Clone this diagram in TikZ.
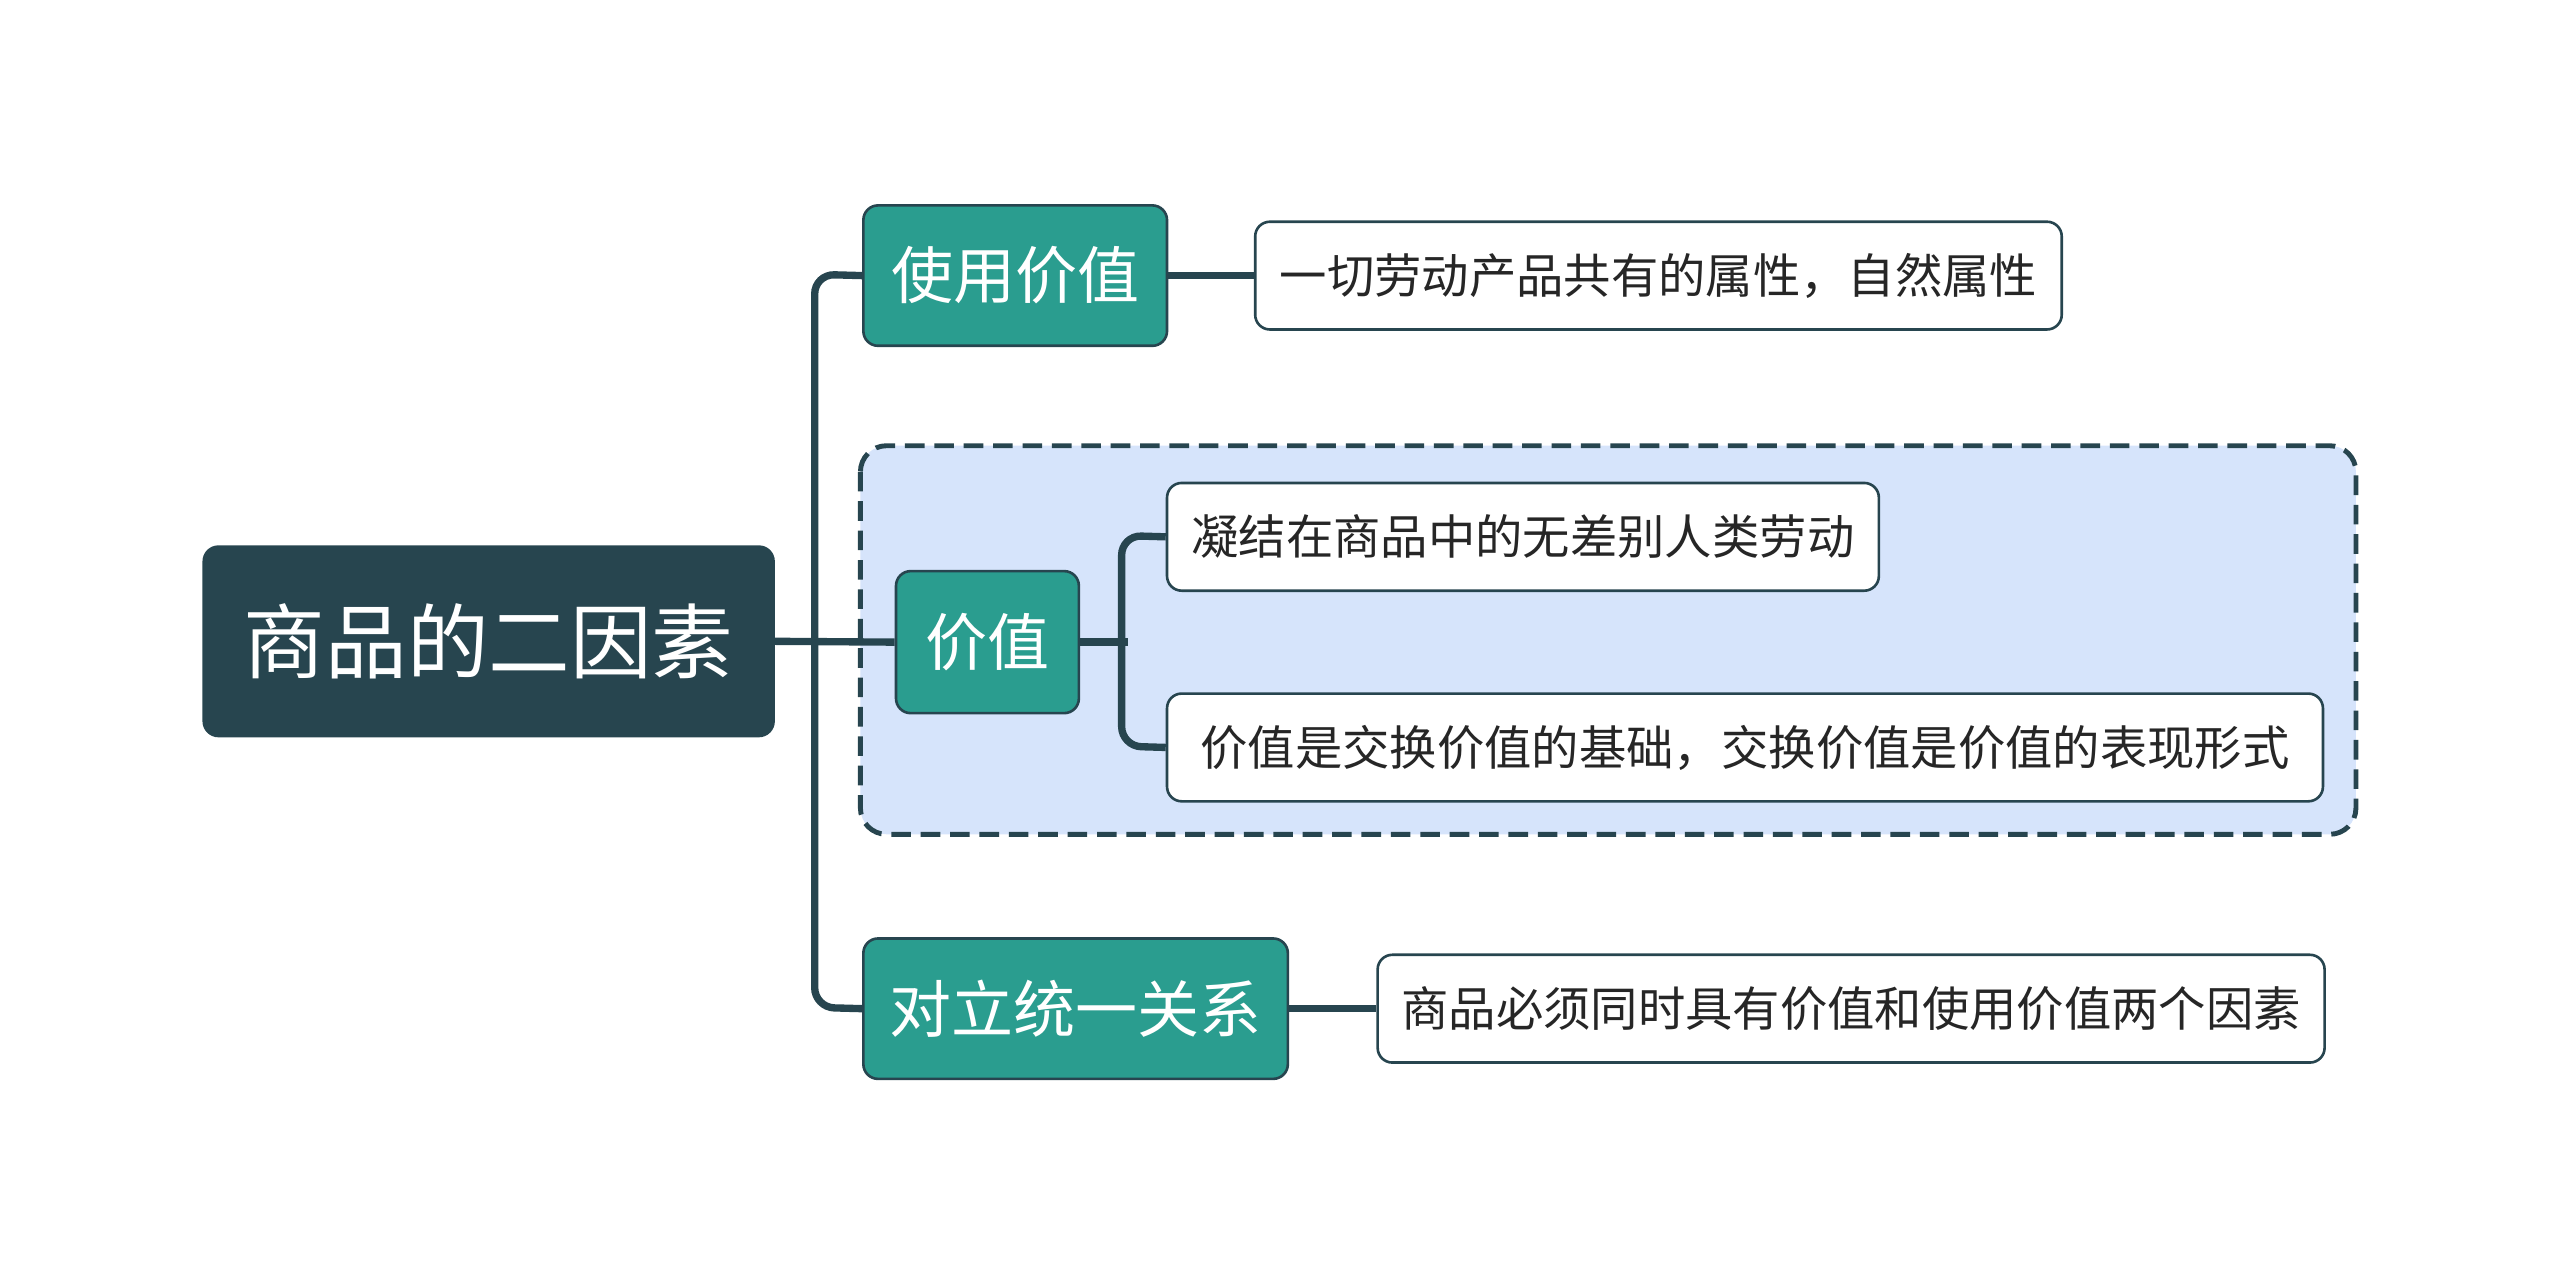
\documentclass[tikz,border=0pt]{standalone}
\usepackage{fontspec}
\setmainfont{Noto Sans CJK SC}
\definecolor{dk}{HTML}{27454F}
\definecolor{tl}{HTML}{2A9D8F}
\definecolor{bl}{HTML}{D6E4FB}
\begin{document}
\begin{tikzpicture}[x=1pt,y=-1pt,
 box/.style={rounded corners=9pt,draw=dk,line width=1.6pt,inner sep=0pt,anchor=north west},
 root/.style={box,fill=dk,text=white,font=\fontsize{50}{54}\selectfont},
 mid/.style={box,fill=tl,text=white,font=\fontsize{38}{42}\selectfont},
 leaf/.style={box,fill=white,text=black!85,font=\fontsize{29}{34}\selectfont},
 link/.style={draw=dk,line width=4.5pt,rounded corners=12pt}]
\useasboundingbox (0,0) rectangle (1568,785);
\fill[bl,rounded corners=16pt] (527,273) rectangle (1443,511);
\draw[dk,line width=3pt,dash pattern=on 12pt off 6pt,rounded corners=16pt] (527,273) rectangle (1443,511);
\node[root,minimum width=349pt,minimum height=116pt] (r) at (124,334) {商品的二因素};
\node[mid,minimum width=186pt,minimum height=86pt] (a) at (528,125) {使用价值};
\node[mid,minimum width=112pt,minimum height=87pt] (b) at (548,349) {价值};
\node[mid,minimum width=260pt,minimum height=86pt] (c) at (528,574) {对立统一关系};
\node[leaf,minimum width=494pt,minimum height=66pt] (l1) at (768,135) {一切劳动产品共有的属性，自然属性};
\node[leaf,minimum width=436pt,minimum height=66pt] (l2) at (714,295) {凝结在商品中的无差别人类劳动};
\node[leaf,minimum width=708pt,minimum height=66pt] (l3) at (714,424) {价值是交换价值的基础，交换价值是价值的表现形式};
\node[leaf,minimum width=580pt,minimum height=66pt] (l4) at (843,584) {商品必须同时具有价值和使用价值两个因素};
\path[link] (a.west) -- (499,168) -- (499,617) -- (c.west);
\path[link] (r.east) -- (b.west);
\path[link] (a.east) -- (l1.west);
\path[link] (c.east) -- (l4.west);
\path[link] (l2.west) -- (687,328) -- (687,457) -- (l3.west);
\path[link] (b.east) -- ++(29,0);
\end{tikzpicture}
\end{document}
